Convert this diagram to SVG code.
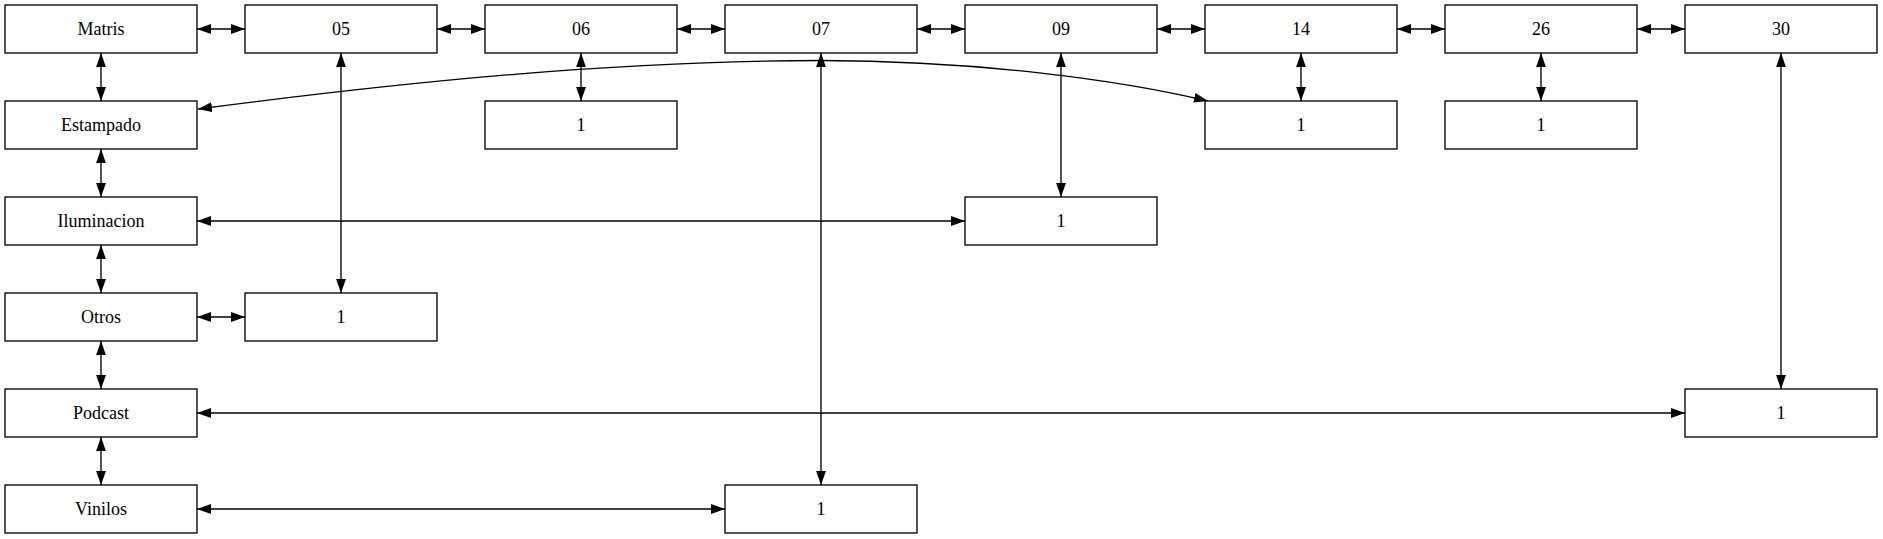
<svg xmlns="http://www.w3.org/2000/svg" width="1883" height="539" viewBox="0 0 1883 539">
<style>
.n rect{fill:#fff;stroke:#000;stroke-width:1.33}
.n text{font-family:'Liberation Serif','Times New Roman',serif;font-size:18px;text-anchor:middle;fill:#000}
.e path{fill:none;stroke:#000;stroke-width:1.33;marker-start:url(#ah);marker-end:url(#ah)}
</style>
<defs>
<marker id="ah" markerUnits="userSpaceOnUse" markerWidth="14" markerHeight="10" viewBox="0 0 13.33 9.33" refX="13.33" refY="4.67" orient="auto-start-reverse">
<path d="M0,0 L13.33,4.67 L0,9.33 z" fill="#000"/>
</marker>
</defs>
<rect width="1883" height="539" fill="#fff"/>
<g id="connectors" class="e">
<path d="M197,29 L245,29"/>
<path d="M437,29 L485,29"/>
<path d="M677,29 L725,29"/>
<path d="M917,29 L965,29"/>
<path d="M1157,29 L1205,29"/>
<path d="M1397,29 L1445,29"/>
<path d="M1637,29 L1685,29"/>
<path d="M101,53 L101,101"/>
<path d="M101,149 L101,197"/>
<path d="M101,245 L101,293"/>
<path d="M101,341 L101,389"/>
<path d="M101,437 L101,485"/>
<path d="M581,53 L581,101"/>
<path d="M1301,53 L1301,101"/>
<path d="M1541,53 L1541,101"/>
<path d="M341,53 L341,293"/>
<path d="M821,53 L821,485"/>
<path d="M1061,53 L1061,197"/>
<path d="M1781,53 L1781,389"/>
<path d="M197,221 L965,221"/>
<path d="M197,317 L245,317"/>
<path d="M197,413 L1685,413"/>
<path d="M197,509 L725,509"/>
<path d="M198,109 C420,80 620,61 821,60.5 C980,61 1120,80 1208,101"/>
</g>
<g id="n_matris" class="n"><rect x="5" y="5" width="192" height="48"/><text x="101" y="35">Matris</text></g>
<g id="n_05" class="n"><rect x="245" y="5" width="192" height="48"/><text x="341" y="35">05</text></g>
<g id="n_06" class="n"><rect x="485" y="5" width="192" height="48"/><text x="581" y="35">06</text></g>
<g id="n_07" class="n"><rect x="725" y="5" width="192" height="48"/><text x="821" y="35">07</text></g>
<g id="n_09" class="n"><rect x="965" y="5" width="192" height="48"/><text x="1061" y="35">09</text></g>
<g id="n_14" class="n"><rect x="1205" y="5" width="192" height="48"/><text x="1301" y="35">14</text></g>
<g id="n_26" class="n"><rect x="1445" y="5" width="192" height="48"/><text x="1541" y="35">26</text></g>
<g id="n_30" class="n"><rect x="1685" y="5" width="192" height="48"/><text x="1781" y="35">30</text></g>
<g id="n_estampado" class="n"><rect x="5" y="101" width="192" height="48"/><text x="101" y="131">Estampado</text></g>
<g id="n_06_1" class="n"><rect x="485" y="101" width="192" height="48"/><text x="581" y="131">1</text></g>
<g id="n_14_1" class="n"><rect x="1205" y="101" width="192" height="48"/><text x="1301" y="131">1</text></g>
<g id="n_26_1" class="n"><rect x="1445" y="101" width="192" height="48"/><text x="1541" y="131">1</text></g>
<g id="n_iluminacion" class="n"><rect x="5" y="197" width="192" height="48"/><text x="101" y="227">Iluminacion</text></g>
<g id="n_09_1" class="n"><rect x="965" y="197" width="192" height="48"/><text x="1061" y="227">1</text></g>
<g id="n_otros" class="n"><rect x="5" y="293" width="192" height="48"/><text x="101" y="323">Otros</text></g>
<g id="n_05_1" class="n"><rect x="245" y="293" width="192" height="48"/><text x="341" y="323">1</text></g>
<g id="n_podcast" class="n"><rect x="5" y="389" width="192" height="48"/><text x="101" y="419">Podcast</text></g>
<g id="n_30_1" class="n"><rect x="1685" y="389" width="192" height="48"/><text x="1781" y="419">1</text></g>
<g id="n_vinilos" class="n"><rect x="5" y="485" width="192" height="48"/><text x="101" y="515">Vinilos</text></g>
<g id="n_07_1" class="n"><rect x="725" y="485" width="192" height="48"/><text x="821" y="515">1</text></g>
</svg>
